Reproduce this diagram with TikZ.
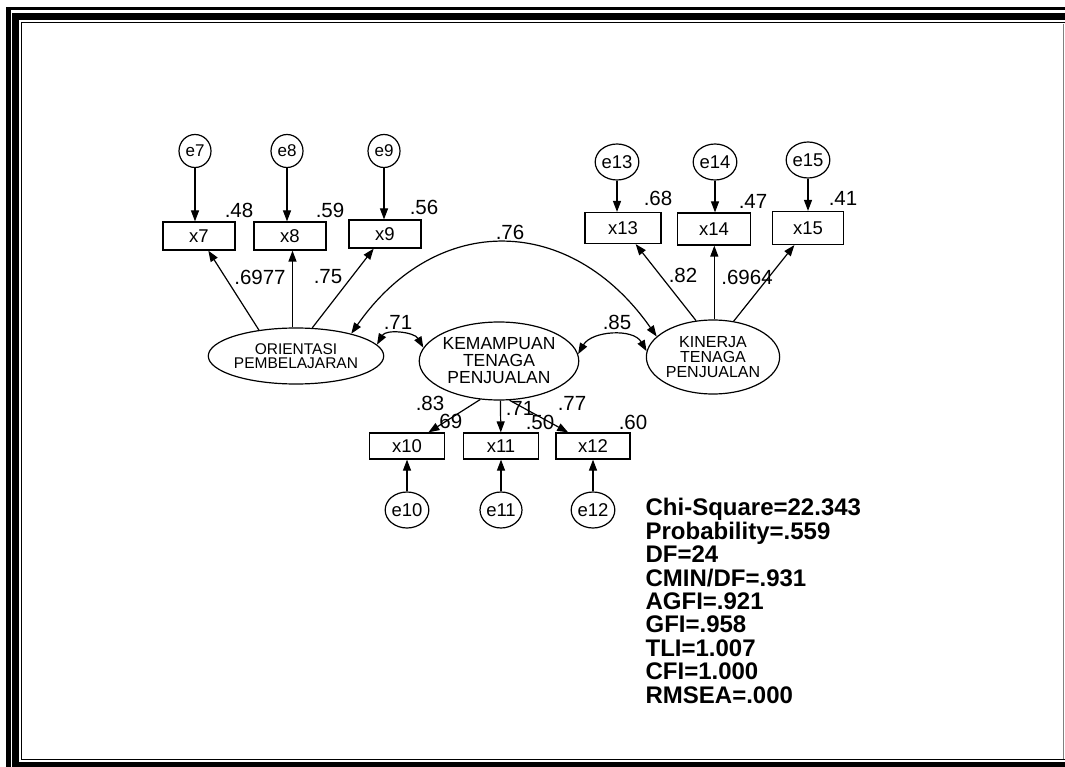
\documentclass[tikz,border=0pt]{standalone}
\usepackage{fontspec}
\setmainfont{Liberation Sans}
\usetikzlibrary{arrows.meta,shapes.geometric}
\begin{document}
\begin{tikzpicture}[x=1pt,y=-1pt,
  line width=1.2pt,
  arr/.style={-{Triangle[length=11pt,width=8pt]}},
  darr/.style={{Triangle[length=11pt,width=8pt]}-{Triangle[length=11pt,width=8pt]}},
  obs/.style={draw,rectangle,minimum width=72pt,minimum height=28pt,inner sep=0pt,font=\fontsize{18.5}{18}\selectfont},
  err/.style={draw,ellipse,minimum width=32pt,minimum height=33pt,inner sep=0pt,font=\fontsize{17}{17}\selectfont},
  errb/.style={draw,ellipse,minimum width=42pt,minimum height=36pt,inner sep=0pt,font=\fontsize{18.5}{18}\selectfont},
  lat/.style={draw,ellipse,inner sep=0pt,align=center},
  lab/.style={inner sep=0pt,font=\fontsize{20.5}{20}\selectfont}
]
\useasboundingbox (0,0) rectangle (1065,767);
% frame
\fill (6,7) rectangle (1065,10.5);
\fill (12,13) rectangle (1065,20);
\fill (6,7) rectangle (10.5,767);
\fill (12,13) rectangle (19,767);
\fill (12,762) rectangle (1065,767);
\draw[line width=0.8pt] (21,22) -- (1065,22);
\draw[line width=0.8pt] (21,22) -- (21,759) -- (1065,759);
\draw[line width=0.6pt,gray] (1063,24) -- (1063,759);

% latent variables
\node[lat,minimum width=144pt,minimum height=56pt,font=\fontsize{15.5}{14}\selectfont] (OP) at (296,356) {ORIENTASI\\PEMBELAJARAN};
\node[lat,minimum width=152pt,minimum height=78pt,font=\fontsize{17.5}{17}\selectfont] (KTP) at (499,361) {KEMAMPUAN\\TENAGA\\PENJUALAN};
\node[lat,minimum width=116pt,minimum height=74pt,font=\fontsize{16}{15}\selectfont] (KIN) at (713,357) {KINERJA\\TENAGA\\PENJUALAN};

% observed
\node[obs] (x7) at (199,236) {x7};
\node[obs] (x8) at (290,236) {x8};
\node[obs] (x9) at (385,234) {x9};
\node[obs,minimum width=76pt,minimum height=31pt] (x13) at (623,228) {x13};
\node[obs,minimum width=73pt,minimum height=32pt] (x14) at (714,229) {x14};
\node[obs,minimum width=71pt,minimum height=33pt] (x15) at (808,228) {x15};
\node[obs,minimum width=75pt,minimum height=26pt] (x10) at (407,446) {x10};
\node[obs,minimum width=75pt,minimum height=26pt] (x11) at (501,446) {x11};
\node[obs,minimum width=74pt,minimum height=26pt] (x12) at (593,446) {x12};

% errors
\node[err] (e7) at (195,151) {e7};
\node[err] (e8) at (287,151) {e8};
\node[err] (e9) at (384,151) {e9};
\node[errb] (e13) at (617,162) {e13};
\node[errb] (e14) at (715,162) {e14};
\node[errb] (e15) at (808,160) {e15};
\node[errb] (e10) at (407,510) {e10};
\node[errb] (e11) at (501,510) {e11};
\node[errb] (e12) at (593,510) {e12};

% error arrows
\draw[arr] (e7) -- (e7 |- x7.north);
\draw[arr] (e8) -- (e8 |- x8.north);
\draw[arr] (e9) -- (e9 |- x9.north);
\draw[arr] (e13) -- (e13 |- x13.north);
\draw[arr] (e14) -- (e14 |- x14.north);
\draw[arr] (e15) -- (e15 |- x15.north);
\draw[arr] (e10) -- (e10 |- x10.south);
\draw[arr] (e11) -- (e11 |- x11.south);
\draw[arr] (e12) -- (e12 |- x12.south);

% loadings
\draw[arr] (OP.145) -- (x7);
\draw[arr] (OP.97) -- (OP.97 |- x8.south);
\draw[arr] (OP.60) -- (x9);
\draw[arr] (KIN.115) -- (x13);
\draw[arr] (KIN.88) -- (KIN.88 |- x14.south);
\draw[arr] (KIN.60) -- (x15);
\draw[arr] (KTP.244) -- (x10);
\draw[arr] (KTP.272) -- (x11);
\draw[arr] (KTP.285) -- (x12);

% covariances
\draw[darr] (OP.8) to[out=60,in=120] (KTP.170);
\draw[darr] (KTP.5) to[out=60,in=120] (KIN.175);
\draw[darr] (OP.22) to[out=55,in=125,looseness=1.25] (KIN.160);

% labels
\node[lab] (l48) at (239,210) {.48};
\node[lab] (l59) at (330,210) {.59};
\node[lab] (l56) at (424,207) {.56};
\node[lab] (l68) at (658,198) {.68};
\node[lab] (l47) at (753,201) {.47};
\node[lab] (l41) at (843,198) {.41};
\node[lab] (l6977) at (260,277) {.6977};
\node[lab] (l75) at (328,277) {.75};
\node[lab] (l82) at (683,275) {.82};
\node[lab] (l6964) at (747,277) {.6964};
\node[lab] (l76) at (510,232) {.76};
\node[lab] (l71a) at (398,322) {.71};
\node[lab] (l85) at (617,322) {.85};
\node[lab] (l83) at (430,403) {.83};
\node[lab] (l69) at (448,421) {.69};
\node[lab] (l71b) at (520,408) {.71};
\node[lab] (l50) at (540,422) {.50};
\node[lab] (l77) at (572,403) {.77};
\node[lab] (l60) at (633,422) {.60};

% fit statistics
\node[anchor=north west,inner sep=0pt,align=left,font=\bfseries\fontsize{24}{23.4}\selectfont] (stats) at (645,498)
{Chi-Square=22.343\\Probability=.559\\DF=24\\CMIN/DF=.931\\AGFI=.921\\GFI=.958\\TLI=1.007\\CFI=1.000\\RMSEA=.000};
\end{tikzpicture}
\end{document}
